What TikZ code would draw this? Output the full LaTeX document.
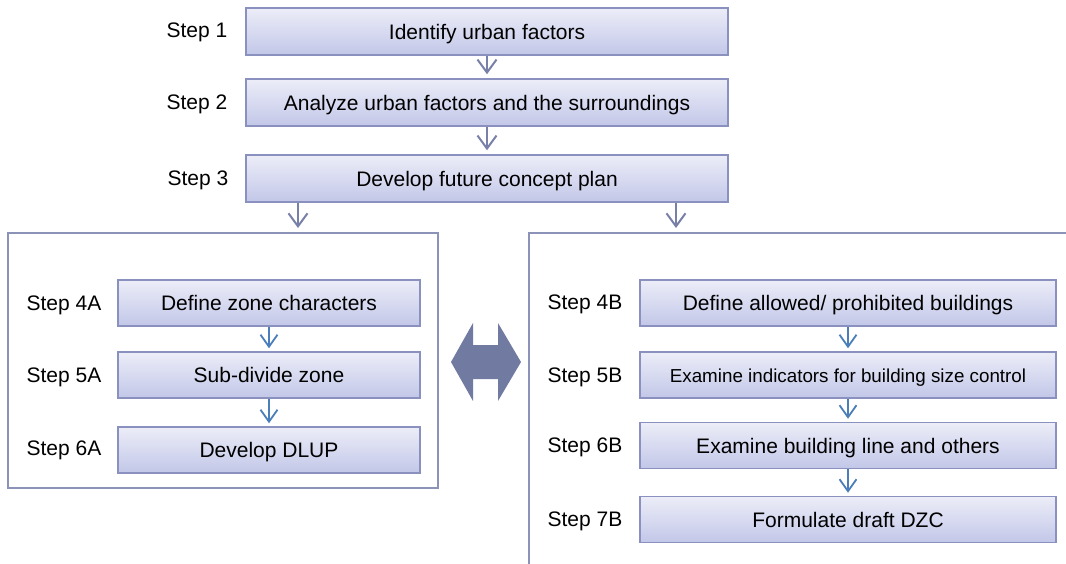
\documentclass[tikz,border=0pt]{standalone}
\usepackage{fontspec}
\setmainfont{Liberation Sans}
\usetikzlibrary{arrows.meta}
\definecolor{boxtop}{HTML}{ECEDF8}
\definecolor{boxbot}{HTML}{C2C7E8}
\definecolor{boxline}{HTML}{8A91BF}
\definecolor{grayarr}{HTML}{7880A8}
\definecolor{bluearr}{HTML}{4A7EBB}
\definecolor{frameline}{HTML}{8C93B8}
\definecolor{dbl}{HTML}{717AA1}
\tikzset{
  stepbox/.style={draw=boxline, line width=1.5pt, top color=boxtop, bottom color=boxbot,
    minimum height=47pt, inner sep=0pt, text height=15pt, text depth=0pt,
    font=\fontsize{21}{24}\selectfont},
  toprow/.style={stepbox, minimum width=482pt},
  leftrow/.style={stepbox, minimum width=302pt, minimum height=46pt},
  rightrow/.style={stepbox, minimum width=416pt, minimum height=46pt},
  steplabel/.style={inner sep=0pt, text height=15pt, text depth=0pt, font=\fontsize{21}{24}\selectfont},
  grayarrow/.style={draw=grayarr, line width=2pt, -{Straight Barb[length=13pt,width=19pt,line width=2pt]}},
  bluearrow/.style={draw=bluearr, line width=1.8pt, -{Straight Barb[length=12pt,width=17pt,line width=1.8pt]}},
  frame/.style={draw=frameline, line width=1.5pt}
}
\begin{document}
\begin{tikzpicture}[x=1pt,y=-1pt]
\useasboundingbox (0,0) rectangle (1066,563);
% top row
\node[toprow] (b1) at (487,31.5) {Identify urban factors};
\node[toprow] (b2) at (487,102.5) {Analyze urban factors and the surroundings};
\node[toprow] (b3) at (487,178.5) {Develop future concept plan};
\node[steplabel] (s1) at (197,30) {Step 1};
\node[steplabel] (s2) at (197,102) {Step 2};
\node[steplabel] (s3) at (198,178) {Step 3};
\draw[grayarrow, shorten >=4pt] (b1.south) -- (b2.north);
\draw[grayarrow, shorten >=4pt] (b2.south) -- (b3.north);
% containers
\node[frame, minimum width=430pt, minimum height=255pt, inner sep=0pt] (lc) at (223,360.5) {};
\coordinate (rctl) at (529,233);
\draw[frame] (1070,233) -- (rctl) -- (529,567);
\coordinate (la) at (298,233);
\coordinate (ra) at (676,233);
\draw[grayarrow, shorten >=5pt] (b3.south -| la) -- (la);
\draw[grayarrow, shorten >=5pt] (b3.south -| ra) -- (ra);
% left column
\node[leftrow] (a4) at (269,303) {Define zone characters};
\node[leftrow] (a5) at (269,375) {Sub-divide zone};
\node[leftrow] (a6) at (269,450) {Develop DLUP};
\node[steplabel] (l4) at (64,303) {Step 4A};
\node[steplabel] (l5) at (64,375) {Step 5A};
\node[steplabel] (l6) at (64,448) {Step 6A};
\draw[bluearrow, shorten >=3pt] (a4.south) -- (a5.north);
\draw[bluearrow, shorten >=3pt] (a5.south) -- (a6.north);
% right column
\node[rightrow] (c4) at (848,303) {Define allowed/ prohibited buildings};
\node[rightrow, font=\fontsize{18.8}{22}\selectfont] (c5) at (848,375) {Examine indicators for building size control};
\node[rightrow] (c6) at (848,445.5) {Examine building line and others};
\node[rightrow] (c7) at (848,519.5) {Formulate draft DZC};
\node[steplabel] (r4) at (585,302) {Step 4B};
\node[steplabel] (r5) at (585,375) {Step 5B};
\node[steplabel] (r6) at (585,445) {Step 6B};
\node[steplabel] (r7) at (585,519) {Step 7B};
\draw[bluearrow, shorten >=3pt] (c4.south) -- (c5.north);
\draw[bluearrow, shorten >=3pt] (c5.south) -- (c6.north);
\draw[bluearrow, shorten >=3pt] (c6.south) -- (c7.north);
% double arrow
\fill[dbl] (451,362) -- (473,323) -- (473,345) -- (498,345) -- (498,323) -- (521,362)
  -- (498,401) -- (498,379) -- (473,379) -- (473,401) -- cycle;
\end{tikzpicture}
\end{document}
